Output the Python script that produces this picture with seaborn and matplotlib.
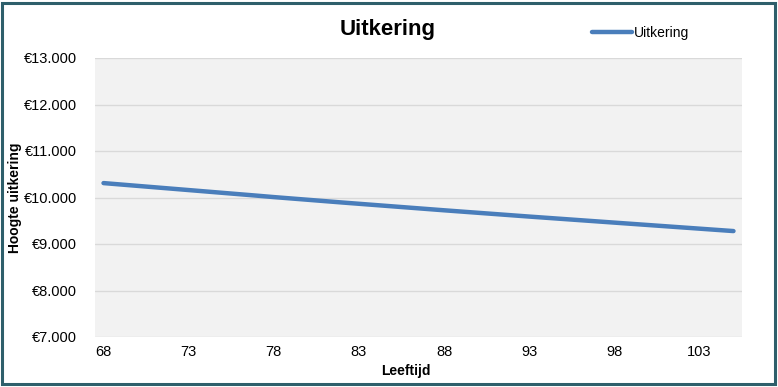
import matplotlib
matplotlib.use("Agg")
import matplotlib.pyplot as plt
from matplotlib.patches import Rectangle
from matplotlib.ticker import FuncFormatter
import pandas as pd
import seaborn as sns

# Data
leeftijd = list(range(68, 106))
uitkering = [10310, 10280, 10250, 10220, 10190, 10160, 10130, 10100, 10070, 10040,
             10009, 9980, 9951, 9922, 9893, 9865, 9837, 9809, 9781, 9753,
             9725, 9698, 9671, 9644, 9617, 9590, 9564, 9538, 9512, 9486,
             9460, 9434, 9408, 9382, 9356, 9330, 9304, 9278]
y_ticks = [7000, 8000, 9000, 10000, 11000, 12000, 13000]

df = pd.DataFrame({'Leeftijd': leeftijd, 'Uitkering': uitkering})

sns.set_style("white")
plt.rcParams['font.family'] = ['Liberation Sans', 'DejaVu Sans']
plt.rcParams['text.color'] = 'black'
plt.rcParams['axes.labelcolor'] = 'black'
plt.rcParams['xtick.color'] = 'black'
plt.rcParams['ytick.color'] = 'black'

fig = plt.figure(figsize=(7.78, 3.87), dpi=100)
ax = fig.add_axes([95/778, 1 - 337/387, 647/778, 279/387])
ax.set_facecolor('#f2f2f2')

sns.lineplot(data=df, x='Leeftijd', y='Uitkering', ax=ax, color='#4a7ebb',
             linewidth=3.2, label='Uitkering', solid_capstyle='round')

# Axis ranges and ticks
ax.set_xlim(67.5, 105.5)
ax.set_ylim(7000, 13000)
ax.set_yticks(y_ticks)
ax.set_xticks(leeftijd[::5])
ax.yaxis.set_major_formatter(FuncFormatter(lambda v, p: '€' + f'{int(v):,}'.replace(',', '.')))
ax.tick_params(axis='y', length=0, pad=13, labelsize=10.5)
ax.tick_params(axis='x', length=0, pad=6, labelsize=10.5)

# Gridlines
ax.grid(axis='y', color='#d9d9d9', linewidth=1)
ax.grid(axis='x', visible=False)
ax.set_axisbelow(True)
for s in ax.spines.values():
    s.set_visible(False)

# Labels
ax.set_xlabel('Leeftijd', fontsize=10, fontweight='bold', va='center')
ax.xaxis.set_label_coords((406 - 95) / 647, (337 - 371) / 279)
ax.set_ylabel('Hoogte uitkering', fontsize=10, fontweight='bold', va='center')
ax.yaxis.set_label_coords((15 - 95) / 647, 0.5)

fig.text(388 / 778, 1 - 30 / 387, 'Uitkering', fontsize=16, fontweight='bold',
         ha='center', va='center')

# Legend
ax.legend(loc='center left', bbox_to_anchor=(592 / 778, 1 - 33 / 387),
          bbox_transform=fig.transFigure, frameon=False, fontsize=10,
          handlelength=2.9, handletextpad=0.1, borderpad=0, borderaxespad=0)

# Outer border
fig.patches.append(Rectangle((2 / 778, 3 / 387), 773 / 778, 381 / 387,
                             transform=fig.transFigure, fill=False,
                             edgecolor='#2e5f6b', linewidth=2.2))

plt.savefig('out.png', dpi=100)
